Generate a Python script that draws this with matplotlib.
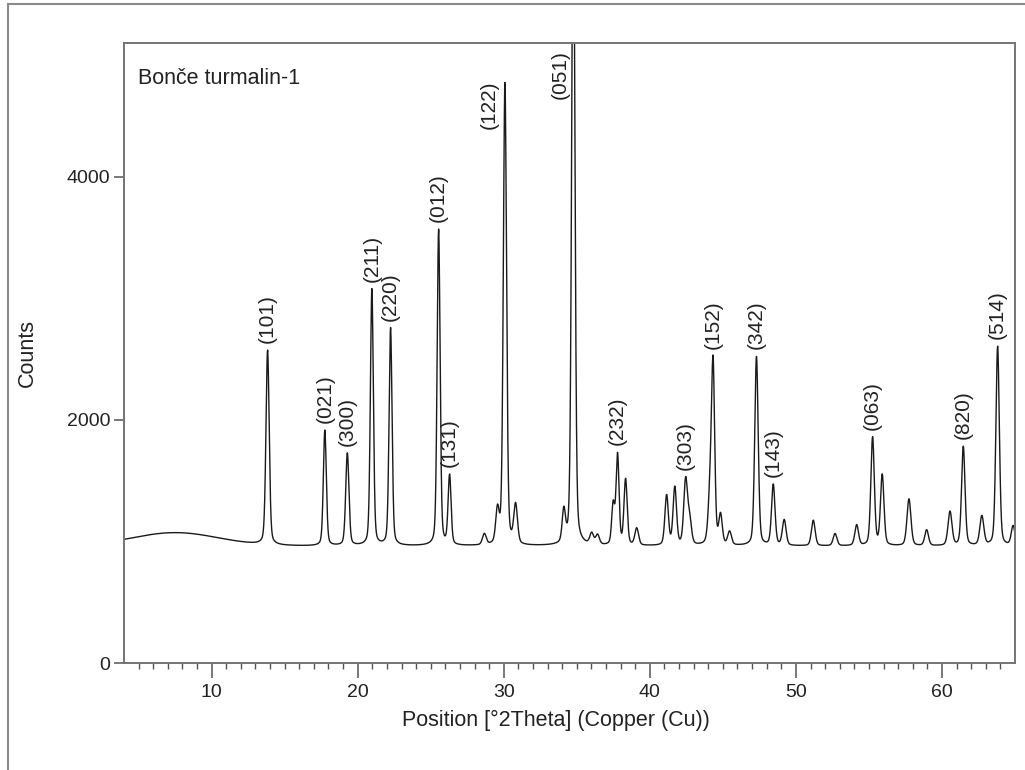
import matplotlib
matplotlib.use("Agg")
import matplotlib.pyplot as plt
from matplotlib.lines import Line2D
import numpy as np

plt.rcParams['font.family'] = ['Liberation Sans', 'DejaVu Sans']

# background level and the broad low-angle hump (counts)
base_level = 962
hump_pos, hump_net, hump_fwhm = 7.5, 110, 7.0

# peaks: position (deg 2theta), net height (counts), fwhm (deg)
peak_pos = [13.83, 17.75, 19.29, 20.97, 22.25, 25.54, 26.29, 28.67, 29.57, 30.08,
            30.81, 34.11, 34.76, 36.02, 36.42, 37.49, 37.79, 38.34, 39.10, 41.15,
            41.71, 42.45, 42.72, 44.12, 44.33, 44.84, 45.46, 47.30, 48.45, 49.20,
            51.19, 52.68, 54.16, 55.25, 55.91, 57.74, 58.95, 60.55, 61.46, 62.73,
            63.81, 64.87]
peak_net = [1600, 950, 760, 2110, 1790, 2600, 570, 90, 270, 3800,
            320, 260, 5600, 90, 80, 330, 740, 540, 140, 410,
            475, 530, 200, 380, 1450, 240, 110, 1555, 500, 210,
            210, 100, 170, 890, 580, 385, 130, 280, 815, 240,
            1640, 160]
peak_fwhm = [0.26, 0.24, 0.26, 0.24, 0.24, 0.24, 0.24, 0.30, 0.28, 0.26,
             0.30, 0.26, 0.26, 0.30, 0.30, 0.24, 0.24, 0.26, 0.30, 0.28,
             0.28, 0.30, 0.30, 0.30, 0.26, 0.28, 0.30, 0.28, 0.28, 0.30,
             0.30, 0.30, 0.30, 0.28, 0.28, 0.32, 0.30, 0.32, 0.28, 0.32,
             0.28, 0.30]

# Miller index labels
hkl_text = ['(101)', '(021)', '(300)', '(211)', '(220)', '(012)', '(131)',
            '(122)', '(051)', '(232)', '(303)', '(152)', '(342)', '(143)',
            '(063)', '(820)', '(514)']
hkl_pos = [13.83, 17.75, 19.29, 20.97, 22.25, 25.54, 26.29,
           30.08, 34.76, 37.79, 42.45, 44.33, 47.30, 48.45,
           55.25, 61.46, 63.81]


def pseudo_voigt(x, x0, h, fwhm, eta=0.3):
    g = np.exp(-4 * np.log(2) * ((x - x0) / fwhm) ** 2)
    lo = 1.0 / (1.0 + 4 * ((x - x0) / fwhm) ** 2)
    return h * ((1 - eta) * g + eta * lo)


two_theta = np.arange(4.0, 65.4, 0.01)
counts = base_level + hump_net * np.exp(-4 * np.log(2) * ((two_theta - hump_pos) / hump_fwhm) ** 2)
for p, h, w in zip(peak_pos, peak_net, peak_fwhm):
    counts = counts + pseudo_voigt(two_theta, p, h, w)

fig = plt.figure(figsize=(10.25, 7.7), dpi=100)
ax = fig.add_axes([124 / 1025, 1 - 663 / 770, 891 / 1025, 620 / 770])

ax.plot(two_theta, counts, color='#1a1a1a', lw=1.0)

ax.set_xlim(4, 65)
ax.set_ylim(0, 5100)
ax.set_xticks([10, 20, 30, 40, 50, 60])
ax.set_xticks(np.arange(5, 65, 1), minor=True)
ax.set_yticks([0, 2000, 4000])

for s in ax.spines.values():
    s.set_color('#747474')
    s.set_linewidth(1.4)

ax.tick_params(axis='x', which='major', direction='out', length=11, width=1.1,
               color='#555555', labelsize=14, pad=4, labelcolor='#222222')
ax.tick_params(axis='x', which='minor', direction='out', length=4.3, width=1.0,
               color='#555555')
ax.tick_params(axis='y', which='major', direction='out', length=7, width=1.1,
               color='#555555', labelsize=14, pad=3, labelcolor='#222222')

ax.set_xlabel('Position [°2Theta] (Copper (Cu))', fontsize=15.5, color='#222222')
ax.xaxis.set_label_coords(0.485, -0.076)
ax.set_ylabel('Counts', fontsize=15.5, color='#222222')
ax.yaxis.set_label_coords(-0.097, 0.5)

ax.text(0.0157, 0.934, 'Bonče turmalin-1', transform=ax.transAxes,
        fontsize=15.5, color='#222222', va='baseline', ha='left')

# labels above the peaks; the two strongest are written beside them
for txt, p in zip(hkl_text, hkl_pos):
    top = np.interp(p, two_theta, counts)
    if txt == '(122)':
        ax.text(29.04, 4790, txt, rotation=90, ha='center', va='top',
                fontsize=15, color='#222222')
    elif txt == '(051)':
        ax.text(33.88, 5040, txt, rotation=90, ha='center', va='top',
                fontsize=15, color='#222222')
    else:
        ax.annotate(txt, (p, top), xytext=(0, 5), textcoords='offset points',
                    rotation=90, ha='center', va='bottom', fontsize=15,
                    color='#222222')

# outer frame lines of the original figure
fig.add_artist(Line2D([8 / 1025, 1.0], [1 - 4 / 770, 1 - 4 / 770],
                      transform=fig.transFigure, color='#8a8a8a', lw=1.5))
fig.add_artist(Line2D([8 / 1025, 8 / 1025], [0, 1 - 4 / 770],
                      transform=fig.transFigure, color='#8a8a8a', lw=1.5))

fig.savefig('out.png', dpi=100)
